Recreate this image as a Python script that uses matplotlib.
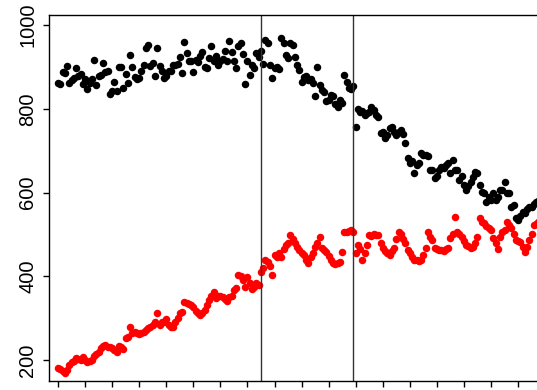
import matplotlib
matplotlib.use("Agg")
import matplotlib.pyplot as plt

black_vals = [
    862, 859, 888, 886, 902, 862, 869, 873, 898, 878,
    883, 859, 871, 847, 862, 871, 916, 857, 878, 881,
    909, 888, 890, 835, 843, 864, 843, 900, 900, 850,
    883, 862, 928, 900, 876, 871, 873, 890, 904, 945,
    952, 902, 909, 878, 945, 902, 890, 873, 878, 890,
    890, 904, 904, 907, 923, 885, 959, 933, 914, 914,
    888, 916, 911, 926, 935, 900, 897, 921, 950, 914,
    926, 904, 914, 918, 938, 914, 962, 935, 914, 897,
    950, 957, 930, 859, 914, 881, 904, 897, 933, 923,
    938, 907, 964, 957, 904, 873, 897, 900, 895, 969,
    957, 928, 921, 957, 952, 924, 904, 892, 864, 876,
    878, 869, 871, 862, 830, 900, 857, 845, 840, 818,
    821, 833, 830, 812, 804, 821, 815, 881, 864, 850,
    847, 854, 757, 799, 792, 795, 785, 790, 793, 804,
    798, 785, 780, 742, 745, 730, 737, 754, 757, 744,
    737, 745, 749, 740, 718, 682, 670, 675, 647, 666,
    670, 694, 690, 690, 687, 654, 654, 635, 640, 655,
    661, 658, 666, 670, 647, 678, 654, 654, 630, 640,
    618, 606, 615, 625, 637, 649, 647, 618, 601, 599,
    577, 589, 582, 600, 582, 590, 606, 606, 625, 599,
    599, 565, 570, 539, 534, 545, 554, 551, 560, 565,
    565, 572, 577, 580,
]

red_vals = [
    181, 179, 175, 169, 176, 188, 195, 198, 205, 203,
    200, 208, 200, 195, 198, 200, 210, 215, 219, 229,
    233, 236, 232, 230, 229, 225, 219, 233, 230, 226,
    253, 256, 279, 264, 268, 265, 262, 264, 266, 271,
    276, 279, 284, 291, 312, 284, 291, 291, 298, 284,
    279, 279, 290, 300, 312, 315, 339, 336, 334, 332,
    327, 318, 312, 308, 312, 320, 332, 344, 353, 363,
    348, 353, 353, 351, 345, 341, 351, 353, 367, 372,
    403, 401, 390, 375, 398, 384, 370, 375, 384, 380,
    411, 420, 440, 435, 424, 403, 451, 445, 456, 446,
    465, 474, 480, 499, 490, 479, 470, 463, 456, 450,
    440, 432, 446, 455, 470, 480, 494, 467, 462, 458,
    448, 439, 432, 430, 432, 434, 458, 506, 505, 508,
    510, 506, 456, 474, 465, 439, 455, 474, 499, 497,
    500, 499, 499, 480, 467, 460, 455, 451, 460, 467,
    490, 506, 500, 490, 479, 463, 455, 445, 439, 440,
    437, 439, 450, 467, 506, 495, 487, 467, 465, 463,
    462, 460, 465, 467, 491, 500, 541, 506, 500, 494,
    485, 474, 472, 468, 470, 480, 494, 539, 530, 527,
    520, 515, 510, 491, 480, 465, 494, 505, 510, 530,
    522, 515, 500, 487, 485, 482, 470, 458, 470, 487,
    500, 522, 525, 530,
]

vline_positions = [90, 131]
x_ticks = list(range(0, 217, 12))
y_ticks = [200, 400, 600, 800, 1000]
y_tick_labels = ["200", "400", "600", "800", "1000"]

plt.rcParams["font.family"] = ["Liberation Sans", "DejaVu Sans"]

fig = plt.figure(figsize=(5.37, 3.90), dpi=100)
ax = fig.add_axes([49 / 537, 9 / 390, 527.7 / 537, 366 / 390])

idx_b = list(range(len(black_vals)))
idx_r = list(range(len(red_vals)))
ax.plot(idx_b, black_vals, linestyle="none", marker="o", ms=5.4,
        color="black", markeredgewidth=0)
ax.plot(idx_r, red_vals, linestyle="none", marker="o", ms=5.4,
        color="#ff0000", markeredgewidth=0)

for v in vline_positions:
    ax.axvline(v, color="#333333", lw=1.0)

ax.set_xlim(-4, 230)
ax.set_ylim(150, 1024)

ax.set_xticks(x_ticks)
ax.set_xticklabels([])
ax.set_yticks(y_ticks)
ax.set_yticklabels(y_tick_labels, rotation=90, va="center", fontsize=14.5)

ax.tick_params(axis="both", direction="out", length=4.5, width=1.0,
               color="black", pad=4)
for s in ax.spines.values():
    s.set_linewidth(1.0)
    s.set_color("black")

fig.savefig("out.png", dpi=100)
